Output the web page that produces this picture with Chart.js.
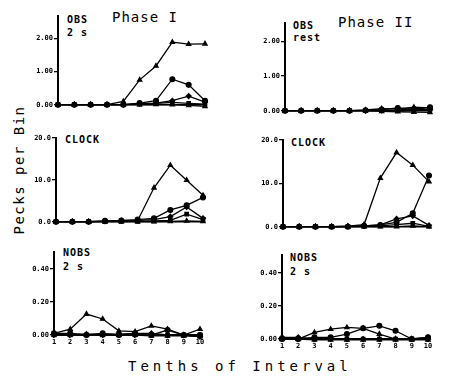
<!DOCTYPE html>
<html>
<head>
<meta charset="utf-8">
<script src="https://cdn.jsdelivr.net/npm/chart.js@4"></script>
<style>
body { margin:0; background:#fff; width:453px; height:384px; position:relative; overflow:hidden;
       font-family:'DejaVu Sans Mono', monospace; font-weight:bold; color:#000; }
canvas { position:absolute; }
.t { position:absolute; white-space:pre; line-height:1; }
.lab { font-size:10px; letter-spacing:1px; }
</style>
</head>
<body>
<div class="t" style="left:112px;top:10px;font-size:14px;font-weight:normal;letter-spacing:1px">Phase I</div>
<div class="t" style="left:338px;top:15px;font-size:14px;font-weight:normal;letter-spacing:1px">Phase II</div>
<div class="t lab" style="left:67px;top:15px">OBS</div>
<div class="t lab" style="left:67px;top:28px">2 s</div>
<div class="t lab" style="left:293px;top:21px">OBS</div>
<div class="t lab" style="left:293px;top:33px">rest</div>
<div class="t lab" style="left:65px;top:135px">CLOCK</div>
<div class="t lab" style="left:291px;top:138px">CLOCK</div>
<div class="t lab" style="left:63px;top:248px">NOBS</div>
<div class="t lab" style="left:63px;top:262px">2 s</div>
<div class="t lab" style="left:290px;top:253px">NOBS</div>
<div class="t lab" style="left:290px;top:267px">2 s</div>
<div class="t" style="left:128px;top:359px;font-size:14px;font-weight:normal;letter-spacing:4px">Tenths of Interval</div>
<div class="t" style="left:19px;top:170px;font-size:14px;font-weight:normal;letter-spacing:1.5px;transform:translate(-50%,-50%) rotate(-90deg)">Pecks per Bin</div>

<canvas id="p1"></canvas>
<canvas id="p2"></canvas>
<canvas id="p3"></canvas>
<canvas id="p4"></canvas>
<canvas id="p5"></canvas>
<canvas id="p6"></canvas>

<script>
// x categories (tenths of interval)
var tenths = ['1', '2', '3', '4', '5', '6', '7', '8', '9', '10'];

// Phase I, OBS 2 s
var obs1A = [0, 0, 0, 0, 0.10, 0.75, 1.17, 1.89, 1.83, 1.84];
var obs1B = [0, 0, 0, 0, 0, 0.05, 0.12, 0.77, 0.60, 0.12];
var obs1C = [0, 0, 0, 0, 0, 0.03, 0.05, 0.12, 0.26, 0.08];
var obs1D = [0, 0, 0, 0, 0, 0.02, 0.04, 0.07, 0.04, 0.02];
var obs1E = [0, 0, 0, 0, 0, 0, 0.01, 0, -0.02, -0.05];

// Phase II, OBS rest
var obs2A = [0, 0, 0, 0, 0, 0.02, 0.06, 0.05, 0.10, 0.08];
var obs2B = [0, 0, 0, 0, 0, 0.01, 0.03, 0.08, 0.04, 0.10];
var obs2C = [0, 0, 0, 0, 0, 0, 0.01, 0.02, 0.06, 0.03];
var obs2D = [0, 0, 0, 0, 0, 0, 0, 0.01, 0.02, 0.04];
var obs2E = [0, 0, 0, 0, 0, 0, -0.02, -0.03, -0.04, -0.05];

// Phase I, CLOCK
var clk1A = [0, 0, 0, 0.1, 0.2, 0.3, 8.1, 13.5, 9.9, 6.3];
var clk1B = [0, 0, 0, 0.2, 0.3, 0.5, 0.8, 2.8, 3.9, 5.8];
var clk1C = [0, 0, 0, 0.1, 0.2, 0.3, 0.5, 1.2, 3.5, 0.8];
var clk1D = [0, 0, 0, 0.1, 0.1, 0.1, 0.2, 0.3, 1.8, 0.5];
var clk1E = [0, 0, 0, 0, 0, 0, 0, 0.1, 0.2, 0.1];

// Phase II, CLOCK
var clk2A = [0, 0, 0, 0, 0.1, 0.5, 11.2, 17.1, 14.2, 10.4];
var clk2B = [0, 0, 0, 0, 0, 0.2, 0.4, 1.0, 3.1, 11.8];
var clk2C = [0, 0, 0, 0, 0.1, 0.2, 0.4, 1.8, 2.5, 0.3];
var clk2D = [0, 0, 0, 0, 0, 0.1, 0.2, 0.5, 0.8, 0.1];
var clk2E = [0, 0, 0, 0, 0, 0, 0, 0, 0.2, 0];

// Phase I, NOBS 2 s
var nobs1A = [0.010, 0.035, 0.127, 0.097, 0.025, 0.020, 0.055, 0.035, 0.000, 0.035];
var nobs1B = [0.010, 0.010, 0.000, 0.010, 0.000, 0.010, 0.000, 0.030, 0.000, 0.000];
var nobs1C = [0.005, 0.005, 0.005, 0.005, 0.005, 0.010, 0.010, 0.000, 0.000, -0.010];
var nobs1D = [0, 0, 0, 0, 0, 0, 0, 0, 0, 0];
var nobs1E = [0, 0, 0, 0, 0, 0, -0.005, -0.005, -0.005, -0.010];

// Phase II, NOBS 2 s
var nobs2A = [0, 0, 0.040, 0.060, 0.070, 0.065, 0.030, 0.000, 0.000, 0.010];
var nobs2B = [0, 0, 0.010, 0.010, 0.030, 0.065, 0.080, 0.050, 0.000, 0.010];
var nobs2C = [0.010, 0.010, 0, 0, 0, 0, 0, 0, 0, 0];
var nobs2D = [0, 0, 0, 0, 0, 0, 0, 0, 0, 0];
var nobs2E = [0, 0, -0.005, -0.005, -0.005, -0.005, -0.005, -0.005, -0.005, -0.005];

var shapes = ['triangle', 'circle', 'rectRot', 'rect', 'triangle'];

// axisX, topY, zeroY, rightX: where the plot box sits on the page
function panel(id, box, series, yMax, yTicks, digits, showX) {
    var W = 32, padT = 6, padR = 6, padB = 3;
    var xh = showX ? 12 : 0;
    var plotH = box.zeroY - box.topY;
    var cw = W + (box.rightX - box.axisX) + padR;
    var ch = padT + plotH + xh + padB;
    var cv = document.getElementById(id);
    cv.width = cw;
    cv.height = ch;
    cv.style.left = (box.axisX - W) + 'px';
    cv.style.top = (box.topY - padT) + 'px';

    var tickFont = {family: 'DejaVu Sans Mono', size: 7, weight: 'bold'};
    var datasets = series.map(function (s, i) {
        return {
            data: s,
            borderColor: '#000',
            borderWidth: 1.3,
            backgroundColor: '#000',
            pointBackgroundColor: '#000',
            pointBorderColor: '#000',
            pointStyle: shapes[i],
            pointRadius: 2.4,
            borderWidth: 1.3,
            tension: 0,
            clip: false
        };
    });

    new Chart(cv.getContext('2d'), {
        type: 'line',
        data: {labels: tenths, datasets: datasets},
        options: {
            responsive: false,
            animation: false,
            devicePixelRatio: 1,
            layout: {padding: {top: padT, right: padR, bottom: padB, left: 0}},
            plugins: {legend: {display: false}, tooltip: {enabled: false}},
            scales: {
                x: {
                    offset: false,
                    border: {display: true, color: '#000', width: 1.5},
                    grid: {display: showX, drawOnChartArea: false, drawTicks: showX, tickLength: 3, color: '#000', lineWidth: 1.5},
                    ticks: {display: showX, color: '#000', font: tickFont, padding: 0, maxRotation: 0, autoSkip: false},
                    afterFit: function (s) { s.height = xh; s.paddingLeft = 0; s.paddingRight = 0; }
                },
                y: {
                    min: 0,
                    max: yMax,
                    border: {display: true, color: '#000', width: 2},
                    grid: {drawOnChartArea: false, drawTicks: true, tickLength: 4, color: '#000', lineWidth: 1.3},
                    ticks: {
                        color: '#000', font: tickFont, padding: 1,
                        callback: function (v) { return Number(v).toFixed(digits); }
                    },
                    afterBuildTicks: function (s) {
                        s.ticks = yTicks.map(function (v) { return {value: v}; });
                    },
                    afterFit: function (s) { s.width = W; s.paddingTop = 0; s.paddingBottom = 0; }
                }
            }
        }
    });
}

panel('p1', {axisX: 58, topY: 16, zeroY: 107, rightX: 205}, [obs1A, obs1B, obs1C, obs1D, obs1E], 2.68, [0, 1, 2], 2, false);
panel('p2', {axisX: 285, topY: 23, zeroY: 113, rightX: 430}, [obs2A, obs2B, obs2C, obs2D, obs2E], 2.53, [0, 1, 2], 2, false);
panel('p3', {axisX: 56, topY: 138, zeroY: 224, rightX: 203}, [clk1A, clk1B, clk1C, clk1D, clk1E], 20, [0, 10, 20], 1, false);
panel('p4', {axisX: 283, topY: 140, zeroY: 229, rightX: 429}, [clk2A, clk2B, clk2C, clk2D, clk2E], 20, [0, 10, 20], 1, false);
panel('p5', {axisX: 54, topY: 252, zeroY: 335, rightX: 200}, [nobs1A, nobs1B, nobs1C, nobs1D, nobs1E], 0.503, [0, 0.2, 0.4], 2, true);
panel('p6', {axisX: 282, topY: 255, zeroY: 339, rightX: 428}, [nobs2A, nobs2B, nobs2C, nobs2D, nobs2E], 0.51, [0, 0.2, 0.4], 2, true);
</script>
</body>
</html>
